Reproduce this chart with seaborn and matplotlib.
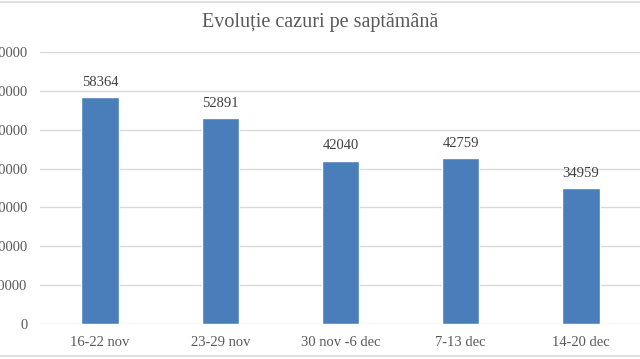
import matplotlib
matplotlib.use("Agg")
import matplotlib.pyplot as plt
import seaborn as sns
import pandas as pd
from matplotlib.lines import Line2D

# Weekly case counts
weeks = ["16-22 nov", "23-29 nov", "30 nov -6 dec", "7-13 dec", "14-20 dec"]
cases = [58364, 52891, 42040, 42759, 34959]
y_ticks = [0, 10000, 20000, 30000, 40000, 50000, 60000, 70000]

sns.set_theme(style="white")
plt.rcParams['font.family'] = ['Liberation Serif', 'DejaVu Serif']

df = pd.DataFrame({"week": weeks, "cases": cases})

fig = plt.figure(figsize=(6.4, 3.59), dpi=100)
ax = fig.add_axes([40 / 640, 35 / 359, 601 / 640, 272 / 359])

sns.barplot(data=df, x="week", y="cases", color="#4a7ebb", width=0.31,
            saturation=1, ax=ax, zorder=3)

for p, v in zip(ax.patches, cases):
    ax.annotate(str(v), (p.get_x() + p.get_width() / 2, p.get_height()),
                xytext=(0, 6), textcoords="offset points", ha="center", va="bottom",
                fontsize=10.5, color="#404040")

ax.set_ylim(0, 70000)
ax.set_yticks(y_ticks)
ax.set_yticklabels([str(t) for t in y_ticks])
ax.yaxis.grid(True, color="#d9d9d9", linewidth=1, zorder=0)
ax.set_axisbelow(True)
for s in ax.spines.values():
    s.set_visible(False)
ax.tick_params(axis="both", length=0, labelsize=10.5, labelcolor="#595959")
ax.tick_params(axis="y", pad=9)
ax.tick_params(axis="x", pad=9)
ax.set_xlabel("")
ax.set_ylabel("")
ax.set_xlim(-0.5, 4.5)

fig.suptitle("Evoluție cazuri pe saptămână", fontsize=14.5, color="#595959",
             x=0.5, y=1 - 13 / 359, va="top")

# chart frame lines (top and bottom)
fig.add_artist(Line2D([0, 1], [1 - 1.5 / 359] * 2, color="#d9d9d9", linewidth=1.2,
                      transform=fig.transFigure))
fig.add_artist(Line2D([0, 1], [3.5 / 359] * 2, color="#d9d9d9", linewidth=1.2,
                      transform=fig.transFigure))

fig.savefig("out.png", dpi=100, facecolor="white")
